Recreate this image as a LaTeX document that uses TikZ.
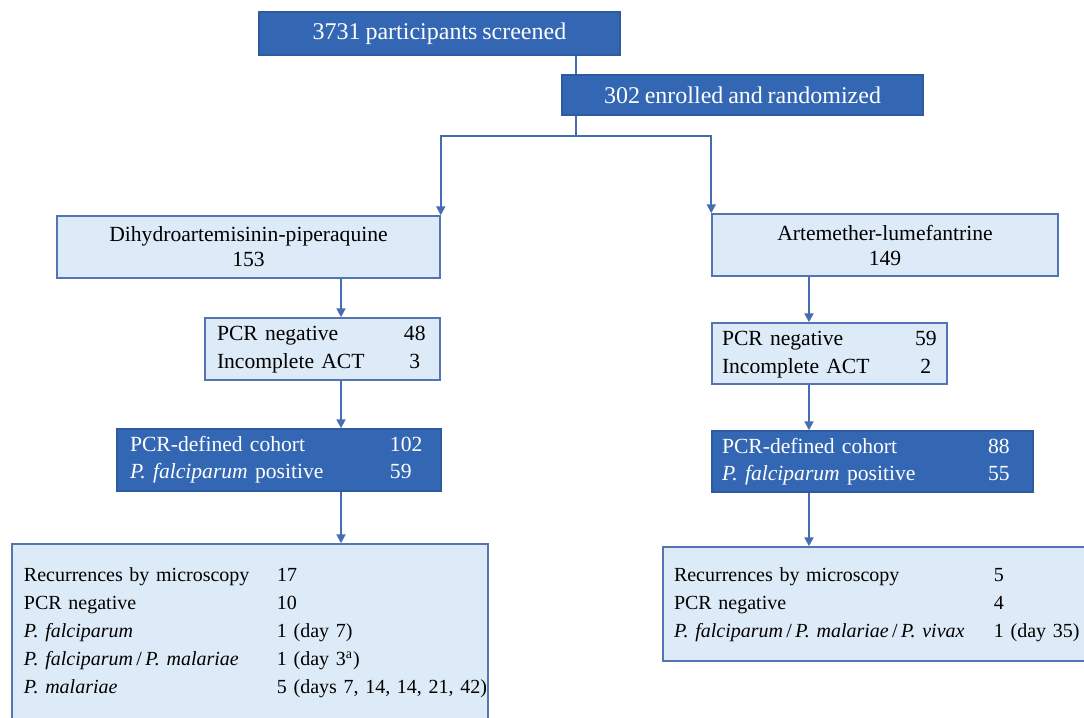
\documentclass[tikz,border=0pt]{standalone}
\usepackage{fontspec}
\setmainfont{Liberation Serif}[WordSpace=0.8]
\usetikzlibrary{arrows.meta}

\definecolor{deepblue}{RGB}{51,102,179}
\definecolor{deepedge}{RGB}{45,90,160}
\definecolor{paleblue}{RGB}{221,234,247}
\definecolor{paleedge}{RGB}{84,116,180}
\definecolor{linkblue}{RGB}{70,108,180}

\tikzset{
  darkbox/.style={draw=deepedge, fill=deepblue, text=white, line width=0.75pt, inner sep=0pt},
  palebox/.style={draw=paleedge, fill=paleblue, line width=0.75pt, inner ysep=0pt},
  link/.style={draw=linkblue, line width=1pt},
  arr/.style={link, -{Triangle[width=4.5pt,length=4.5pt]}}
}
\frenchspacing

\begin{document}
\begin{tikzpicture}[x=0.5pt,y=-0.5pt]
\clip (0,0) rectangle (1084,718);
% Screening and randomization
\node[darkbox, minimum width=180.5pt, minimum height=21.5pt, font=\fontsize{12}{14}\selectfont] (scr) at (439.5,33.5) {3731 participants screened};
\node[darkbox, minimum width=180.5pt, minimum height=20pt, font=\fontsize{12}{14}\selectfont] (enr) at (742.5,95) {302 enrolled and randomized};
% Split point and the two arrow columns
\coordinate (split) at (576,136);
\coordinate (lcol) at (341,0);
\coordinate (rcol) at (809,0);
% Treatment arms
\node[palebox, inner xsep=0pt, minimum width=191.5pt, minimum height=31pt, align=center, font=\fontsize{10.8}{12.5}\selectfont] (dp) at (248.5,247) {Dihydroartemisinin-piperaquine\\153};
\node[palebox, inner xsep=0pt, minimum width=173pt, minimum height=31pt, align=center, font=\fontsize{10.8}{12.5}\selectfont] (al) at (885,245) {Artemether-lumefantrine\\149};
% Exclusions
\node[palebox, inner xsep=6pt, text width=105.5pt, minimum height=31pt, font=\fontsize{10.8}{14}\selectfont] (dpexc) at (322.5,349) {\noindent\begin{tabular}{@{}p{93.5pt}@{}c@{}}PCR negative & 48\\ Incomplete ACT & 3\end{tabular}};
\node[palebox, inner xsep=5pt, text width=107.5pt, minimum height=30.5pt, font=\fontsize{10.8}{14}\selectfont] (alexc) at (829.5,353.5) {\noindent\begin{tabular}{@{}p{96.5pt}@{}c@{}}PCR negative & 59\\ Incomplete ACT & 2\end{tabular}};
% PCR-defined cohorts
\node[darkbox, inner xsep=6.5pt, text width=149pt, minimum height=31pt, font=\fontsize{10.8}{13.5}\selectfont] (dpcoh) at (279,460) {\noindent\begin{tabular}{@{}p{130pt}@{}l@{}}PCR-defined cohort & 102\\ \textit{P. falciparum} positive & 59\end{tabular}};
\node[darkbox, inner xsep=5pt, text width=150.5pt, minimum height=30.5pt, font=\fontsize{10.8}{13.5}\selectfont] (alcoh) at (872.5,461.5) {\noindent\begin{tabular}{@{}p{133pt}@{}l@{}}PCR-defined cohort & 88\\ \textit{P. falciparum} positive & 55\end{tabular}};
% Recurrences
\node[palebox, inner xsep=6pt, text width=226pt, minimum height=88pt, font=\fontsize{10}{14}\selectfont] (dprec) at (250,632) {\noindent\begin{tabular}{@{}p{126.5pt}@{}l@{}}Recurrences by microscopy & 17\\ PCR negative & 10\\ \textit{P. falciparum} & 1 (day 7)\\ \textit{P. falciparum}\,/\,\textit{P. malariae} & 1 (day 3\textsuperscript{a})\\ \textit{P. malariae} & 5 (days 7, 14, 14, 21, 42)\end{tabular}};
\node[palebox, inner xsep=5.5pt, text width=212.5pt, minimum height=57pt, font=\fontsize{10}{14}\selectfont] (alrec) at (886.5,604) {\noindent\begin{tabular}{@{}p{160pt}@{}l@{}}Recurrences by microscopy & 5\\ PCR negative & 4\\ \textit{P. falciparum}\,/\,\textit{P. malariae}\,/\,\textit{P. vivax} & 1 (day 35)\end{tabular}};
% Connectors
\draw[link] (scr.south -| split) -- (enr.north -| split);
\draw[link] (enr.south -| split) -- (split);
\draw[arr] (split) -| (dp.north east);
\draw[arr] (split) -| (al.north west);
\draw[arr] (dp.south -| lcol) -- (dpexc.north -| lcol);
\draw[arr] (dpexc.south -| lcol) -- (dpcoh.north -| lcol);
\draw[arr] (dpcoh.south -| lcol) -- (dprec.north -| lcol);
\draw[arr] (al.south -| rcol) -- (alexc.north -| rcol);
\draw[arr] (alexc.south -| rcol) -- (alcoh.north -| rcol);
\draw[arr] (alcoh.south -| rcol) -- (alrec.north -| rcol);
\end{tikzpicture}
\end{document}
